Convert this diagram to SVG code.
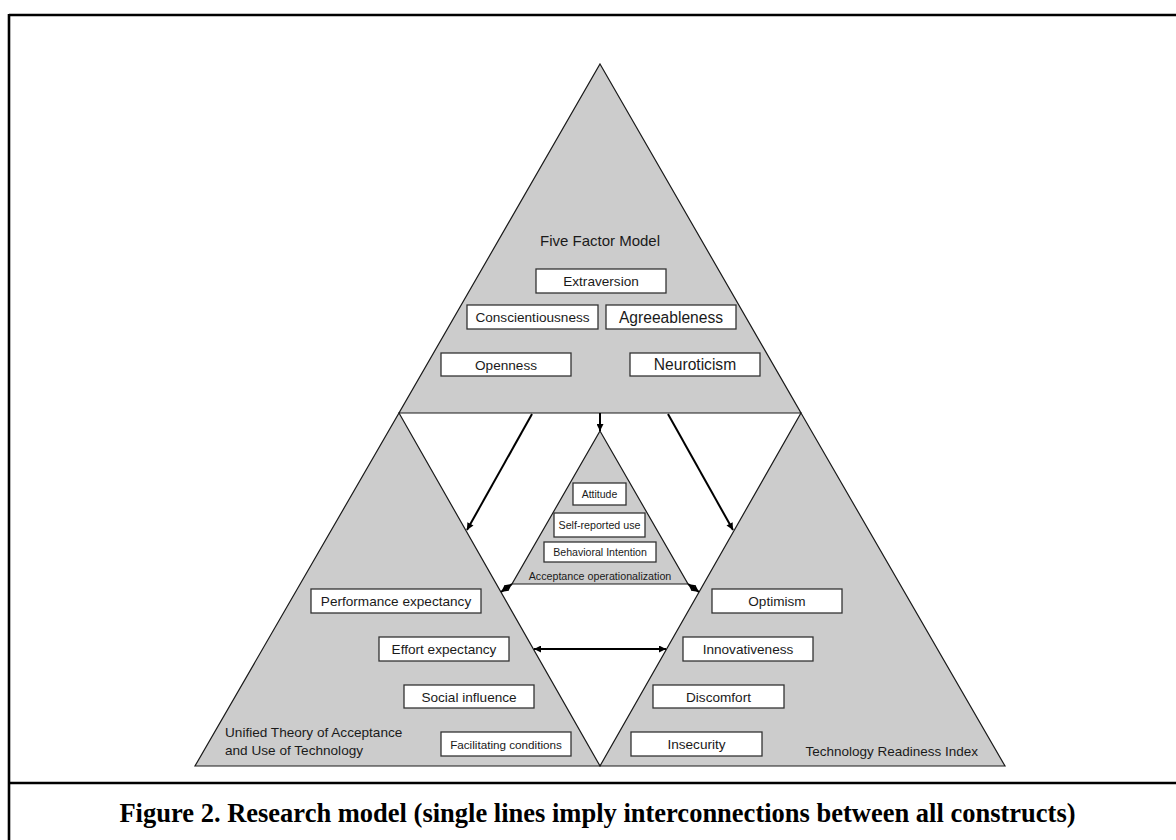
<svg xmlns="http://www.w3.org/2000/svg" width="1176" height="840" viewBox="0 0 1176 840">
<defs>
<style>
.tri{fill:#cccccc;stroke:#1a1a1a;stroke-width:1.2;stroke-linejoin:miter}
.box{fill:#ffffff;stroke:#333333;stroke-width:1.3}
.t{font-family:"Liberation Sans",Arial,sans-serif;fill:#1a1a1a;text-anchor:middle}
.lbl{font-family:"Liberation Sans",Arial,sans-serif;fill:#1a1a1a}
.frame{stroke:#000;stroke-width:2.6;fill:none}
.con{stroke:#000;stroke-width:2;fill:none}
</style>
<marker id="ah" viewBox="0 0 10 10" refX="10" refY="5" markerWidth="9" markerHeight="7" markerUnits="userSpaceOnUse" orient="auto-start-reverse">
<path d="M0,0 L10,5 L0,10 z" fill="#000"/>
</marker>
</defs>
<rect x="0" y="0" width="1176" height="840" fill="#ffffff"/>
<g id="frame">
<line class="frame" x1="9" y1="15" x2="1176" y2="15"/>
<line class="frame" x1="9" y1="14" x2="9" y2="840"/>
<line class="frame" x1="9" y1="783" x2="1176" y2="783"/>
</g>
<g id="ffm">
<polygon class="tri" points="600,64 801,413 399,413"/>
<text class="t" x="600" y="246" font-size="15">Five Factor Model</text>
<rect class="box" x="536" y="269" width="130" height="24"/>
<text class="t" x="601" y="286" font-size="13.6">Extraversion</text>
<rect class="box" x="467" y="305" width="131" height="24"/>
<text class="t" x="532.5" y="322" font-size="13.6">Conscientiousness</text>
<rect class="box" x="606" y="305" width="130" height="24"/>
<text class="t" x="671" y="323" font-size="15.6">Agreeableness</text>
<rect class="box" x="441" y="353" width="130" height="23"/>
<text class="t" x="506" y="369.5" font-size="13.6">Openness</text>
<rect class="box" x="630" y="353" width="130" height="23"/>
<text class="t" x="695" y="370" font-size="15.6">Neuroticism</text>
</g>
<g id="utaut">
<polygon class="tri" points="399,413 600,766 195,766"/>
<rect class="box" x="311" y="589" width="170" height="24"/>
<text class="t" x="396" y="606" font-size="13.6">Performance expectancy</text>
<rect class="box" x="379" y="637" width="130" height="24"/>
<text class="t" x="444" y="654" font-size="13.6">Effort expectancy</text>
<rect class="box" x="404" y="685" width="130" height="23"/>
<text class="t" x="469" y="701.5" font-size="13.6">Social influence</text>
<rect class="box" x="441" y="732" width="130" height="24"/>
<text class="t" x="506" y="748.5" font-size="11.7">Facilitating conditions</text>
<text class="lbl" x="225" y="737" font-size="13.6">Unified Theory of Acceptance</text>
<text class="lbl" x="225" y="755" font-size="13.6">and Use of Technology</text>
</g>
<g id="tri">
<polygon class="tri" points="801,413 1005,766 600,766"/>
<rect class="box" x="712" y="589" width="130" height="24"/>
<text class="t" x="777" y="606" font-size="13.6">Optimism</text>
<rect class="box" x="683" y="637" width="130" height="24"/>
<text class="t" x="748" y="654" font-size="13.6">Innovativeness</text>
<rect class="box" x="653" y="685" width="131" height="23"/>
<text class="t" x="718.5" y="701.5" font-size="13.6">Discomfort</text>
<rect class="box" x="631" y="732" width="131" height="24"/>
<text class="t" x="696.5" y="749" font-size="13.6">Insecurity</text>
<text class="lbl" x="978" y="756" font-size="13.5" text-anchor="end">Technology Readiness Index</text>
</g>
<g id="acceptance">
<polygon class="tri" points="600,431 688,584 512,584"/>
<rect class="box" x="573" y="483" width="53" height="22"/>
<text class="t" x="599.5" y="498" font-size="10.5">Attitude</text>
<rect class="box" x="554" y="513" width="91" height="24"/>
<text class="t" x="599.5" y="529" font-size="10.7">Self-reported use</text>
<rect class="box" x="544" y="542" width="112" height="20"/>
<text class="t" x="600" y="556" font-size="10.6">Behavioral Intention</text>
<text class="t" x="600" y="580" font-size="10.7">Acceptance operationalization</text>
</g>
<g id="connectors">
<line class="con" x1="600" y1="413" x2="600" y2="431" marker-end="url(#ah)"/>
<line class="con" x1="532" y1="414" x2="467" y2="530" marker-end="url(#ah)"/>
<line class="con" x1="668" y1="414" x2="733" y2="530" marker-end="url(#ah)"/>
<line class="con" x1="534" y1="649" x2="666" y2="649" marker-start="url(#ah)" marker-end="url(#ah)"/>
<line class="con" x1="501" y1="592" x2="512" y2="584" marker-start="url(#ah)" marker-end="url(#ah)"/>
<line class="con" x1="699" y1="592" x2="688" y2="584" marker-start="url(#ah)" marker-end="url(#ah)"/>
</g>
<g id="caption">
<text x="597.5" y="822" font-family="'Liberation Serif','Times New Roman',serif" font-weight="bold" font-size="26.5" text-anchor="middle" fill="#000">Figure 2. Research model (single lines imply interconnections between all constructs)</text>
</g>
</svg>
